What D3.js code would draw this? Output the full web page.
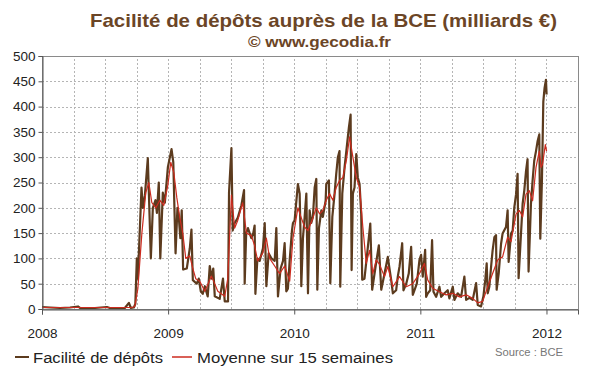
<!DOCTYPE html>
<html>
<head>
<meta charset="utf-8">
<script src="https://cdn.jsdelivr.net/npm/d3@7/dist/d3.min.js"></script>
<style>
  body { margin: 0; background: #fff; }
  text { font-family: "Liberation Sans", Arial, sans-serif; }
</style>
</head>
<body>
<div id="chart"></div>
<script>
// weekly-ish readings, [decimal year, billions €]
var depots = [
  [2008.000,4],[2008.063,3],[2008.143,2],[2008.222,3],[2008.285,5],[2008.301,2],[2008.420,2],
  [2008.515,4],[2008.538,2],[2008.657,2],[2008.689,12],[2008.705,2],[2008.728,3],[2008.740,10],
  [2008.752,100],[2008.760,60],[2008.789,240],[2008.800,200],[2008.816,225],[2008.839,298],
  [2008.863,100],[2008.879,200],[2008.900,215],[2008.911,190],[2008.926,250],[2008.938,100],
  [2008.958,230],[2008.974,210],[2008.998,280],[2009.027,316],[2009.041,290],[2009.059,110],
  [2009.074,200],[2009.085,180],[2009.097,140],[2009.108,195],[2009.119,78],[2009.148,80],
  [2009.172,120],[2009.185,157],[2009.196,57],[2009.227,50],[2009.243,60],[2009.259,35],
  [2009.275,30],[2009.291,45],[2009.314,25],[2009.330,85],[2009.346,60],[2009.358,80],
  [2009.370,25],[2009.409,20],[2009.435,60],[2009.449,15],[2009.475,15],[2009.483,230],
  [2009.502,318],[2009.512,155],[2009.528,170],[2009.552,180],[2009.581,205],[2009.602,235],
  [2009.607,50],[2009.619,150],[2009.633,160],[2009.660,140],[2009.675,150],[2009.686,165],
  [2009.692,30],[2009.708,100],[2009.726,95],[2009.752,120],[2009.766,170],[2009.779,45],
  [2009.797,110],[2009.819,100],[2009.845,95],[2009.858,160],[2009.871,25],[2009.892,80],
  [2009.911,95],[2009.924,130],[2009.937,35],[2009.950,40],[2009.964,97],[2009.982,155],
  [2009.990,170],[2010.003,175],[2010.029,247],[2010.043,228],[2010.051,136],[2010.056,45],
  [2010.069,140],[2010.082,180],[2010.096,228],[2010.101,150],[2010.109,31],[2010.122,195],
  [2010.135,170],[2010.148,182],[2010.162,240],[2010.175,257],[2010.183,38],[2010.196,160],
  [2010.215,195],[2010.227,182],[2010.249,214],[2010.254,247],[2010.275,254],[2010.286,51],
  [2010.302,182],[2010.320,228],[2010.333,267],[2010.346,300],[2010.359,312],[2010.365,44],
  [2010.381,228],[2010.399,280],[2010.413,312],[2010.433,358],[2010.447,384],[2010.455,77],
  [2010.465,228],[2010.478,240],[2010.492,306],[2010.504,260],[2010.518,247],[2010.531,188],
  [2010.539,58],[2010.557,60],[2010.584,123],[2010.603,169],[2010.618,38],[2010.645,84],
  [2010.671,126],[2010.690,38],[2010.716,70],[2010.742,103],[2010.755,80],[2010.769,57],
  [2010.782,31],[2010.808,37],[2010.821,64],[2010.835,84],[2010.856,130],[2010.866,37],
  [2010.888,50],[2010.908,70],[2010.927,123],[2010.940,28],[2010.953,37],[2010.972,50],
  [2010.993,97],[2011.006,107],[2011.019,64],[2011.038,117],[2011.046,24],[2011.059,31],
  [2011.078,37],[2011.093,136],[2011.104,34],[2011.125,24],[2011.151,44],[2011.165,24],
  [2011.191,31],[2011.217,37],[2011.230,21],[2011.257,44],[2011.270,18],[2011.296,31],
  [2011.323,24],[2011.349,64],[2011.363,18],[2011.389,22],[2011.415,18],[2011.442,51],
  [2011.455,8],[2011.481,5],[2011.500,25],[2011.515,58],[2011.526,90],[2011.534,31],
  [2011.547,44],[2011.561,84],[2011.573,116],[2011.587,142],[2011.600,146],[2011.605,38],
  [2011.621,70],[2011.640,129],[2011.652,149],[2011.679,162],[2011.692,195],[2011.700,93],
  [2011.719,149],[2011.732,155],[2011.745,201],[2011.759,227],[2011.771,267],[2011.779,61],
  [2011.798,149],[2011.811,208],[2011.824,234],[2011.838,273],[2011.850,296],[2011.858,74],
  [2011.877,208],[2011.890,254],[2011.903,293],[2011.917,312],[2011.930,332],[2011.943,345],
  [2011.951,139],[2011.964,254],[2011.975,410],[2011.985,437],[2011.996,453],[2012.001,424]
];

var moyenne = [
  [2008.000,3],[2008.301,3],[2008.618,3],[2008.713,3],[2008.736,5],[2008.760,40],[2008.792,150],
  [2008.823,230],[2008.847,250],[2008.871,210],[2008.903,200],[2008.934,215],[2008.966,205],
  [2008.998,245],[2009.021,290],[2009.045,270],[2009.069,220],[2009.093,180],[2009.116,150],
  [2009.140,100],[2009.172,105],[2009.196,80],[2009.219,60],[2009.251,55],[2009.291,35],
  [2009.344,65],[2009.394,35],[2009.449,25],[2009.473,60],[2009.502,225],[2009.528,160],
  [2009.552,175],[2009.591,210],[2009.621,150],[2009.660,145],[2009.686,125],[2009.710,95],
  [2009.750,110],[2009.779,140],[2009.805,100],[2009.845,85],[2009.884,70],[2009.924,85],
  [2009.964,55],[2009.990,140],[2010.029,200],[2010.056,180],[2010.082,162],[2010.109,155],
  [2010.148,180],[2010.175,200],[2010.201,188],[2010.227,195],[2010.254,215],[2010.280,228],
  [2010.306,215],[2010.333,240],[2010.359,254],[2010.386,260],[2010.413,293],[2010.439,340],
  [2010.465,300],[2010.492,260],[2010.518,240],[2010.544,162],[2010.571,90],[2010.597,116],
  [2010.623,70],[2010.650,97],[2010.676,88],[2010.716,64],[2010.742,84],[2010.782,44],
  [2010.835,64],[2010.888,44],[2010.940,50],[2010.993,70],[2011.032,90],[2011.059,57],
  [2011.098,41],[2011.151,34],[2011.204,28],[2011.257,31],[2011.310,24],[2011.363,28],
  [2011.415,21],[2011.455,12],[2011.494,15],[2011.534,44],[2011.573,70],[2011.613,97],
  [2011.652,103],[2011.692,142],[2011.719,133],[2011.759,188],[2011.785,195],[2011.811,182],
  [2011.838,227],[2011.864,234],[2011.890,214],[2011.917,280],[2011.943,312],[2011.957,280],
  [2011.969,286],[2011.991,325],[2012.001,312]
];

var years = [2008, 2009, 2010, 2011, 2012];
var yTicks = [0, 50, 100, 150, 200, 250, 300, 350, 400, 450, 500];
var quarters = d3.range(2008, 2012.26, 0.25);

var brown = "#5c3b1e", red = "#cc2b1f", titleColor = "#6b4526";

var width = 600, height = 372;
var margin = { top: 56, right: 22, bottom: 63, left: 42 };

var svg = d3.select("#chart").append("svg")
    .attr("width", width)
    .attr("height", height);

var x = d3.scaleLinear().domain([2008, 2012.25]).range([margin.left, width - margin.right]);
var y = d3.scaleLinear().domain([0, 500]).range([height - margin.bottom, margin.top]);

// titles (the source image is a bit stretched horizontally, hence textLength)
svg.append("text")
    .attr("x", 90).attr("y", 27)
    .attr("font-size", "19px").attr("font-weight", "bold")
    .attr("fill", titleColor)
    .attr("textLength", 467).attr("lengthAdjust", "spacingAndGlyphs")
    .text("Facilité de dépôts auprès de la BCE (milliards €)");
svg.append("text")
    .attr("x", 248).attr("y", 47)
    .attr("font-size", "14px").attr("font-weight", "bold")
    .attr("fill", titleColor)
    .attr("textLength", 143).attr("lengthAdjust", "spacingAndGlyphs")
    .text("© www.gecodia.fr");

// grid
var grid = svg.append("g").attr("stroke", "#b5b5b5").attr("stroke-dasharray", "2,2").attr("stroke-width", 1);
grid.selectAll(".hg").data(yTicks.slice(1)).enter().append("line")
    .attr("x1", x(2008)).attr("x2", x(2012.25))
    .attr("y1", function(d) { return Math.round(y(d)) + 0.5; })
    .attr("y2", function(d) { return Math.round(y(d)) + 0.5; });
grid.selectAll(".vg").data(quarters.slice(1)).enter().append("line")
    .attr("y1", y(0)).attr("y2", y(500))
    .attr("x1", function(d) { return Math.round(x(d)) + 0.5; })
    .attr("x2", function(d) { return Math.round(x(d)) + 0.5; });

// frame
svg.append("rect")
    .attr("x", x(2008) + 0.5).attr("y", y(500) + 0.5)
    .attr("width", x(2012.25) - x(2008)).attr("height", y(0) - y(500))
    .attr("fill", "none").attr("stroke", "#8a8a8a");

// lines
var line = d3.line()
    .x(function(d) { return x(d[0]); })
    .y(function(d) { return y(d[1]); });

svg.append("path").datum(depots)
    .attr("d", line)
    .attr("fill", "none")
    .attr("stroke", brown)
    .attr("stroke-width", 2.2)
    .attr("stroke-linejoin", "round");

svg.append("path").datum(moyenne)
    .attr("d", line)
    .attr("fill", "none")
    .attr("stroke", red)
    .attr("stroke-width", 1.2)
    .attr("stroke-linejoin", "round");

// axes
var yAxis = svg.append("g")
    .attr("transform", "translate(" + (x(2008) + 0.5) + ",0)")
    .call(d3.axisLeft(y).tickValues(yTicks).tickSize(4).tickPadding(3));
var xAxis = svg.append("g")
    .attr("transform", "translate(0," + (y(0) + 0.5) + ")")
    .call(d3.axisBottom(x).tickValues(years).tickFormat(d3.format("d")).tickSize(5).tickPadding(14));

[yAxis, xAxis].forEach(function(a) {
  a.select(".domain").attr("stroke", "#555");
  a.selectAll(".tick line").attr("stroke", "#555");
  a.selectAll("text")
    .attr("font-size", "13.5px")
    .attr("fill", "#222")
    .style("font-family", "'Liberation Sans', Arial, sans-serif");
});

// legend
var legend = svg.append("g").attr("transform", "translate(0,357)");
legend.append("line").attr("x1", 15).attr("x2", 29).attr("y1", 0).attr("y2", 0)
    .attr("stroke", brown).attr("stroke-width", 2);
legend.append("text").attr("x", 33).attr("y", 6)
    .attr("font-size", "15.5px").attr("fill", "#222")
    .attr("textLength", 130).attr("lengthAdjust", "spacingAndGlyphs")
    .text("Facilité de dépôts");
legend.append("line").attr("x1", 172).attr("x2", 192).attr("y1", 0).attr("y2", 0)
    .attr("stroke", red).attr("stroke-width", 1.5);
legend.append("text").attr("x", 197).attr("y", 6)
    .attr("font-size", "15.5px").attr("fill", "#222")
    .attr("textLength", 196).attr("lengthAdjust", "spacingAndGlyphs")
    .text("Moyenne sur 15 semaines");

svg.append("text")
    .attr("x", 495).attr("y", 356)
    .attr("font-size", "10px").attr("fill", "#777")
    .attr("textLength", 68).attr("lengthAdjust", "spacingAndGlyphs")
    .text("Source : BCE");
</script>
</body>
</html>
